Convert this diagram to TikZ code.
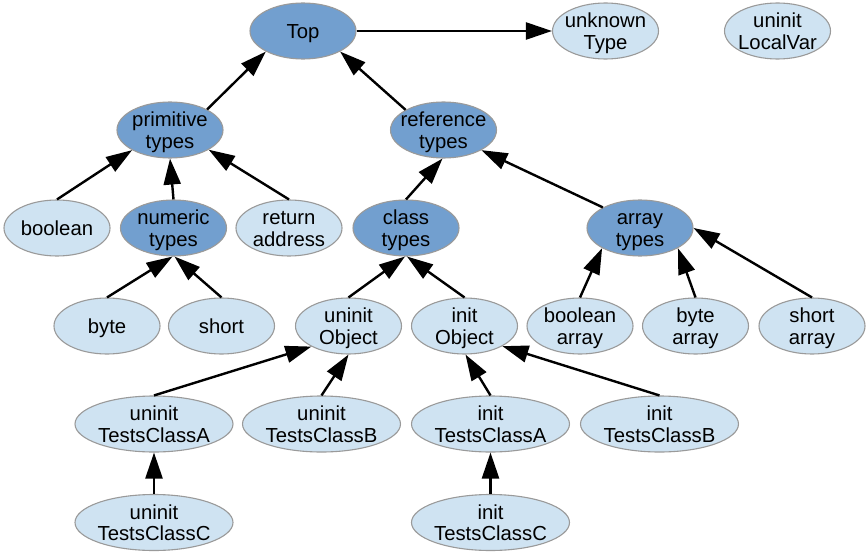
\documentclass[tikz,border=0pt]{standalone}
\usepackage{fontspec}
\setmainfont{Liberation Sans}
\usetikzlibrary{shapes.geometric,arrows.meta}
\definecolor{darkfill}{HTML}{729FCF}
\definecolor{lightfill}{HTML}{CFE3F2}
\definecolor{rim}{HTML}{9A9A9A}
% zero-size labels, so every ellipse keeps its fixed size
\newcommand\lineone[1]{\raisebox{-7.3pt}[0pt][0pt]{\makebox[0pt]{#1}}}
\newcommand\linetwo[2]{\raisebox{3.5pt}[0pt][0pt]{\makebox[0pt]{\begin{tabular}[t]{@{}c@{}}#1\\#2\end{tabular}}}}
\begin{document}
\begin{tikzpicture}[x=1pt,y=-1pt,
  basenode/.style={ellipse, inner sep=0pt, minimum width=106pt, minimum height=56pt,
    draw=rim, line width=1.1pt, font=\fontsize{20.3}{21.7}\selectfont},
  catnode/.style={basenode, fill=darkfill},
  leafnode/.style={basenode, fill=lightfill},
  widenode/.style={minimum width=158pt},
  link/.style={draw=black, line width=2.4pt, -{Triangle[length=26pt,width=17pt]}}]
\useasboundingbox (0,0) rectangle (866,556);

% row 1
\node[catnode]  (top) at (303,31)   {\lineone{Top}};
\node[leafnode] (unk) at (605.5,31) {\linetwo{unknown}{Type}};
\node[leafnode] (lv)  at (777.5,31) {\linetwo{uninit}{LocalVar}};
% row 2
\node[catnode] (prim) at (170,130)   {\linetwo{primitive}{types}};
\node[catnode] (ref)  at (443.5,130) {\linetwo{reference}{types}};
% row 3
\node[leafnode] (bool) at (57,228)    {\lineone{boolean}};
\node[catnode]  (num)  at (173.5,228) {\linetwo{numeric}{types}};
\node[leafnode] (ret)  at (289,228)   {\linetwo{return}{address}};
\node[catnode]  (cls)  at (406,228)   {\linetwo{class}{types}};
\node[catnode]  (arr)  at (640,228)   {\linetwo{array}{types}};
% row 4
\node[leafnode] (byte)  at (107,326)   {\lineone{byte}};
\node[leafnode] (short) at (221.5,326) {\lineone{short}};
\node[leafnode] (uobj)  at (348.5,326) {\linetwo{uninit}{Object}};
\node[leafnode] (iobj)  at (464.5,326) {\linetwo{init}{Object}};
\node[leafnode] (barr)  at (580,326)   {\linetwo{boolean}{array}};
\node[leafnode] (byarr) at (695.5,326) {\linetwo{byte}{array}};
\node[leafnode] (sarr)  at (812,326)   {\linetwo{short}{array}};
% row 5
\node[leafnode,widenode] (ua) at (154,424)   {\linetwo{uninit}{TestsClassA}};
\node[leafnode,widenode] (ub) at (321.5,424) {\linetwo{uninit}{TestsClassB}};
\node[leafnode,widenode] (ia) at (490.5,424) {\linetwo{init}{TestsClassA}};
\node[leafnode,widenode] (ib) at (659.5,424) {\linetwo{init}{TestsClassB}};
% row 6
\node[leafnode,widenode] (uc) at (154,522.5)   {\linetwo{uninit}{TestsClassC}};
\node[leafnode,widenode] (ic) at (490.5,522.5) {\linetwo{init}{TestsClassC}};

% subtype links, pointing to the supertype
\draw[link] (top.0)    -- (unk.180);
\draw[link] (prim.29)  -- (top.209);
\draw[link] (ref.152)  -- (top.331);
\draw[link] (bool.90)  -- (prim.208);
\draw[link] (num.90)   -- (prim.270);
\draw[link] (ret.90)   -- (prim.333);
\draw[link] (cls.90)   -- (ref.268);
\draw[link] (arr.151)  -- (ref.332);
\draw[link] (byte.90)  -- (num.268);
\draw[link] (short.90) -- (num.272);
\draw[link] (uobj.90)  -- (cls.268);
\draw[link] (iobj.90)  -- (cls.272);
\draw[link] (barr.90)  -- (arr.208);
\draw[link] (byarr.90) -- (arr.332);
\draw[link] (sarr.90)  -- (arr.0);
\draw[link] (ua.90)    -- (uobj.209);
\draw[link] (ub.90)    -- (uobj.270);
\draw[link] (ia.90)    -- (iobj.272);
\draw[link] (ib.90)    -- (iobj.332);
\draw[link] (uc.90)    -- (ua.270);
\draw[link] (ic.90)    -- (ia.270);
\end{tikzpicture}
\end{document}
